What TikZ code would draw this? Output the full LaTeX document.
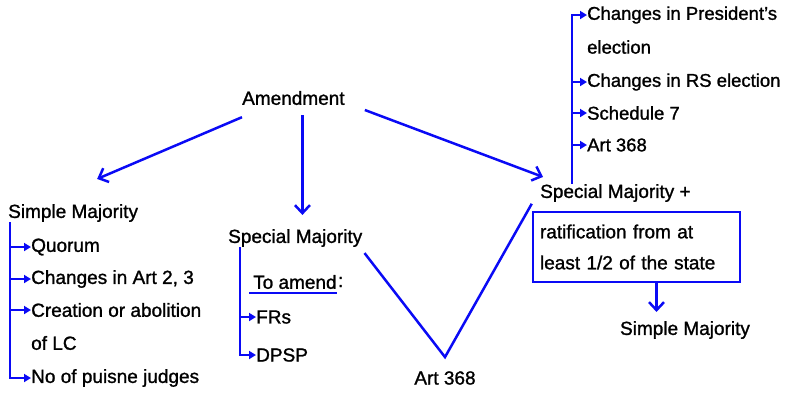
\documentclass[tikz,border=0pt]{standalone}
\usepackage{fontspec}
\setmainfont{Liberation Sans}[FakeBold=1.2]
\usepackage{tikz}
\usetikzlibrary{arrows.meta,positioning}
\definecolor{penblue}{RGB}{10,10,245}
\tikzset{
    %Define standard arrow tip
    >={Straight Barb[length=8pt,width=15pt]},
    %Define style for text
    txt/.style={
           inner sep=0pt,
           anchor=west,
           font=\fontsize{19}{24}\selectfont},
    %Define style for the narrow list on the right
    rtxt/.style={
           txt,
           font=\fontsize{18.5}{24}\selectfont},
    %Define style for boxes
    punktrect/.style={
    rectangle,
    draw=penblue, line width=2.5pt,
    inner xsep=7pt,
    text width=193pt,
    minimum height=70pt,
    align=left,
    font=\fontsize{19}{31}\selectfont},
    % Define arrow style
    pil/.style={
           ->,
           draw=penblue,
           line width=2.5pt},
    % Define branch style
    gren/.style={
           -{Triangle[length=7pt,width=8pt]},
           draw=penblue,
           line width=2.5pt},
    vline/.style={
           draw=penblue,
           line width=2.5pt}
}
\begin{document}
\begin{tikzpicture}[x=1pt,y=-1pt]
\useasboundingbox (0,0) rectangle (785,392);

\node[txt](am) at (242,98){Amendment};

% left: simple majority
\node[txt](sm1) at (8,213){Simple Majority};
\node[txt](q) at (31,247){Quorum};
\node[txt](art23) at (31,279){Changes in Art 2, 3};
\node[txt](lc) at (31,310){Creation or abolition};
\node[txt](lc2) at (31,343){of LC};
\node[txt](pj) at (31,378){No of puisne judges};

% middle: special majority
\node[txt](sm2) at (228,238){Special Majority};
\node[txt](ta) at (253,282){To amend};
\node[txt, right=1pt of ta](col){:};
\node[txt](fr) at (256,317){FRs};
\node[txt](dp) at (256,355){DPSP};
\node[txt, anchor=center](art) at (445,378){Art 368};

% right: special majority + ratification
\node[txt](sm3) at (540,193){Special Majority +};
\node[punktrect](rat) at (636.5,247){ratification from at\\least 1/2 of the state};
\node[txt, anchor=center](sm4) at (685,330){Simple Majority};
\node[rtxt](pr) at (587,15){Changes in President's};
\node[rtxt](pr2) at (587,47){election};
\node[rtxt](rs) at (587,82){Changes in RS election};
\node[rtxt](s7) at (587,113){Schedule 7};
\node[rtxt](a368) at (587,145){Art 368};

\coordinate (amd) at ([xshift=9pt,yshift=-10pt]am.south);
\coordinate (rb) at ([xshift=20pt]rat.south);

 \draw[pil] ([yshift=-12pt]am.south west) -- ([xshift=24pt,yshift=25pt]sm1.north);
 \draw[pil, shorten >=14pt] (amd) -- (amd |- sm2.north);
 \draw[pil] ([xshift=20pt,yshift=-12pt]am.east) -- ([xshift=3pt,yshift=7pt]sm3.north west);
 \draw[pil, shorten >=9pt] (rb) -- (rb |- sm4.north);

 \draw[gren] ([xshift=2pt]sm1.south west) |- (q.west);
 \draw[gren] ([xshift=2pt]sm1.south west) |- (art23.west);
 \draw[gren] ([xshift=2pt]sm1.south west) |- (lc.west);
 \draw[gren] ([xshift=2pt]sm1.south west) |- (pj.west);

 \draw[gren] ([xshift=12pt]sm2.south west) |- (fr.west);
 \draw[gren] ([xshift=12pt]sm2.south west) |- (dp.west);
 \draw[vline] ([xshift=-4pt,yshift=-4pt]ta.south west) -- ([yshift=-4pt]ta.south east);

 \draw[vline] ([xshift=2pt,yshift=-6pt]sm2.south east) -- ([yshift=14pt]art.north) -- ([yshift=7pt]rat.north west);

 \draw[gren] ([xshift=32pt]sm3.north west) |- (pr.west);
 \draw[gren] ([xshift=32pt]sm3.north west) |- (rs.west);
 \draw[gren] ([xshift=32pt]sm3.north west) |- (s7.west);
 \draw[gren] ([xshift=32pt]sm3.north west) |- (a368.west);

\end{tikzpicture}
\end{document}
